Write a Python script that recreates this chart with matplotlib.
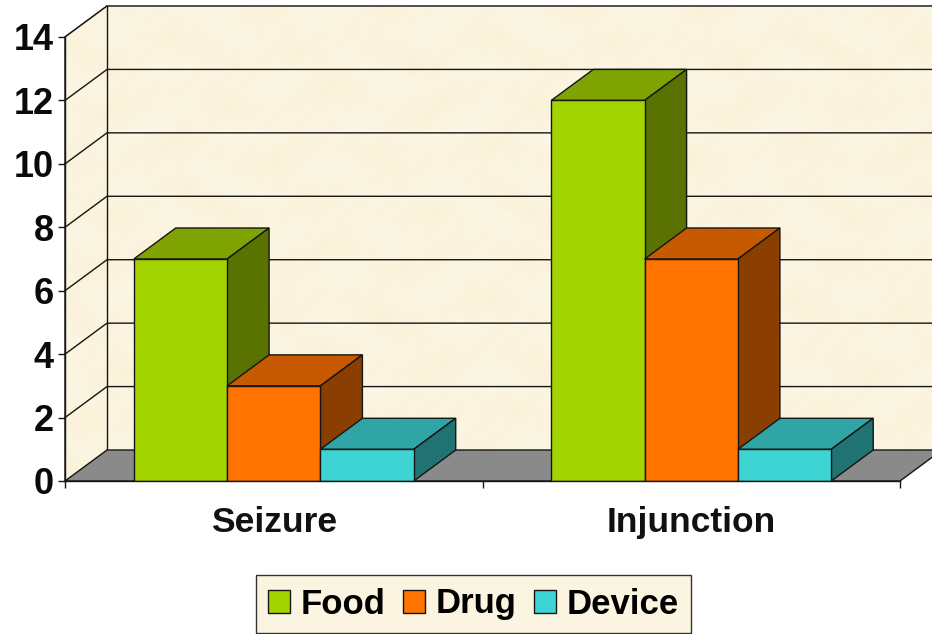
import numpy as np
import matplotlib
matplotlib.use("Agg")
import matplotlib.pyplot as plt
from matplotlib.patches import Polygon, Patch

categories = ["Seizure", "Injunction"]
series_names = ["Food", "Drug", "Device"]
food = [7, 12]
drug = [3, 7]
device = [1, 1]
y_ticks = [0, 2, 4, 6, 8, 10, 12, 14]

front_colors = ["#A4D400", "#FF7300", "#3ED4D4"]
top_colors = ["#7FA300", "#C75900", "#2FA5A5"]
side_colors = ["#5A7200", "#8A3F00", "#217272"]
wall = "#FBF4DF"
floor = "#8A8A8A"
ink = "#151515"
LW = 1.0

W, H = 932, 634
plt.rcParams["font.family"] = ["Liberation Sans", "DejaVu Sans"]
fig = plt.figure(figsize=(W / 100, H / 100), dpi=100, facecolor="white")
L, R, B, T = 65, 900, 481, 37
ax = fig.add_axes([L / W, 1 - B / H, (R - L) / W, (B - T) / H])
ax.set_xlim(0, 2)
ax.set_ylim(0, 14)
ax.patch.set_visible(False)
for s in ["top", "right"]:
    ax.spines[s].set_visible(False)
for s in ["left", "bottom"]:
    ax.spines[s].set_linewidth(LW)
    ax.spines[s].set_color(ink)
    ax.spines[s].set_zorder(20)

# depth of the 3D box expressed in axis units
dx = 42 / ((R - L) / 2)
dy = 31 / ((B - T) / 14)
ymax = 14

# soft paper texture (decorative only)
gx, gy = np.meshgrid(np.linspace(0, 40, 400), np.linspace(0, 30, 300))
tex = (np.sin(gx * 1.3 + 2 * np.sin(gy * .7)) + np.sin(gy * 1.9 + 1.5 * np.sin(gx * .9))
       + np.sin((gx * 1.7 - gy) * 2.7 + np.sin(gy * 3.1)) * .8)
tex = tex / np.abs(tex).max()
rgb = np.zeros(tex.shape + (3,))
base = np.array([251, 244, 223]) / 255
tint = np.array([0.0, -0.010, -0.024])
rgb[...] = base + tex[..., None] * tint

side_wall = Polygon([(0, 0), (dx, dy), (dx, ymax + dy), (0, ymax)], fc=wall, ec=ink, lw=LW, zorder=1, clip_on=False)
back_wall = Polygon([(dx, dy), (2 + dx, dy), (2 + dx, ymax + dy), (dx, ymax + dy)], fc=wall, ec=ink, lw=LW, zorder=1, clip_on=False)
ax.add_patch(side_wall)
ax.add_patch(back_wall)
for poly in (side_wall, back_wall):
    im = ax.imshow(rgb, extent=(0, 2 + dx, 0, ymax + dy), origin="lower", aspect="auto", zorder=1.1)
    im.set_clip_box(fig.bbox)
    im.set_clip_path(poly)
ax.set_xlim(0, 2)
ax.set_ylim(0, 14)

for v in y_ticks[1:]:
    ax.plot([0, dx, 2 + dx], [v, v + dy, v + dy], color=ink, lw=LW, zorder=2, clip_on=False)
ax.plot([dx, dx], [dy, ymax + dy], color=ink, lw=LW, zorder=2, clip_on=False)

ax.add_patch(Polygon([(0, 0), (dx, dy), (2 + dx, dy), (2, 0)], fc=floor, ec=ink, lw=LW, zorder=3, clip_on=False))

# bars
bar_w = 0.2235
series = [food, drug, device]
z = 4
for c in range(len(categories)):
    for i, vals in enumerate(series):
        v = vals[c]
        x0 = c + 0.5 + (i - 1.5) * bar_w
        x1 = x0 + bar_w
        ax.add_patch(Polygon([(x0, v), (x0 + dx, v + dy), (x1 + dx, v + dy), (x1, v)],
                             fc=top_colors[i], ec=ink, lw=LW, zorder=z, clip_on=False))
        ax.add_patch(Polygon([(x1, 0), (x1 + dx, dy), (x1 + dx, v + dy), (x1, v)],
                             fc=side_colors[i], ec=ink, lw=LW, zorder=z, clip_on=False))
        ax.bar(x0, v, width=bar_w, align="edge", color=front_colors[i], edgecolor=ink, linewidth=LW, zorder=z + 0.5)
        z += 1

ax.set_yticks(y_ticks)
ax.set_yticklabels([str(v) for v in y_ticks], fontsize=26, fontweight="bold", color="#0a0a0a")
ax.tick_params(axis="y", length=5, width=LW, color=ink, pad=3)
ax.set_xticks([0, 1, 2])
ax.set_xticklabels([])
ax.set_xticks([0.5, 1.5], minor=True)
ax.set_xticklabels(categories, minor=True, fontsize=25.5, fontweight="bold", color="#111111")
ax.tick_params(axis="x", which="major", length=5, width=LW, color=ink)
ax.tick_params(axis="x", which="minor", length=0, pad=18)

handles = [Patch(fc=front_colors[i], ec=ink, lw=LW, label=series_names[i]) for i in range(3)]
leg = fig.legend(handles=handles, ncol=3, loc="center",
                 bbox_to_anchor=(473.5 / W, 1 - 604 / H), frameon=True, fancybox=False,
                 facecolor="#FAF4E0", edgecolor="#333333", framealpha=1,
                 prop={"size": 25, "weight": "bold"},
                 handlelength=0.63, handleheight=0.65, handletextpad=0.31,
                 columnspacing=0.5, borderpad=0.36, borderaxespad=0)
leg.get_frame().set_linewidth(LW)

fig.savefig("out.png", dpi=100)
